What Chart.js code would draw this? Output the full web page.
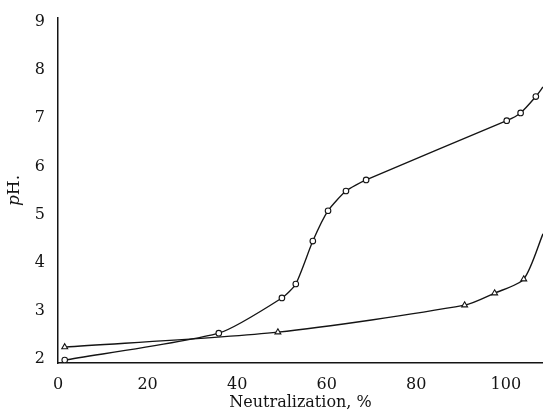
<!DOCTYPE html>
<html><head><meta charset="utf-8">
<script src="https://cdn.jsdelivr.net/npm/chart.js@4"></script>
<style>html,body{margin:0;padding:0;background:#fff;}</style>
</head><body>
<canvas id="c" width="543" height="417" style="width:543px;height:417px;display:block"></canvas>
<script>
// ---- data ----
const xTicks = [0, 20, 40, 60, 80, 100];
const yTicks = [2, 3, 4, 5, 6, 7, 8, 9];

// circles series (% neutralization, pH); last value is the curve's end at the right edge (no marker)
const circleX  = [1.5, 35.9, 50.0, 53.1, 56.9, 60.3, 64.3, 68.8, 100.2, 103.3, 106.7, 108.3];
const circlePH = [1.98, 2.54, 3.27, 3.56, 4.45, 5.08, 5.49, 5.72, 6.95, 7.11, 7.45, 7.65];
const circleMarked = [1, 1, 1, 1, 1, 1, 1, 1, 1, 1, 1, 0];

// triangles series; last value is the curve's end at the right edge (no marker)
const triangleX  = [1.5, 49.1, 90.8, 97.5, 104.0, 108.3];
const trianglePH = [2.25, 2.56, 3.12, 3.37, 3.66, 4.6];
const triangleMarked = [1, 1, 1, 1, 1, 0];

const xTitle = 'Neutralization, %';
const yTitleItalic = 'p';
const yTitleRest = 'H.';

const FONT = '"DejaVu Serif", "Liberation Serif", serif';
const INK = '#141414';

const toPts = (xs, ys) => xs.map((x, i) => ({x: x, y: ys[i]}));

const yTitlePlugin = {
  id: 'yTitle',
  afterDraw(chart) {
    const ctx = chart.ctx;
    const ca = chart.chartArea;
    ctx.save();
    ctx.fillStyle = INK;
    ctx.textBaseline = 'middle';
    const fIt = 'italic 17px ' + FONT;
    const fNo = '17px ' + FONT;
    ctx.font = fIt; const w1 = ctx.measureText(yTitleItalic).width;
    ctx.font = fNo; const w2 = ctx.measureText(yTitleRest).width;
    const total = w1 + w2;
    ctx.translate(15, (ca.top + ca.bottom) / 2);
    ctx.rotate(-Math.PI / 2);
    ctx.textAlign = 'left';
    ctx.font = fIt; ctx.fillText(yTitleItalic, -total / 2, 0);
    ctx.font = fNo; ctx.fillText(yTitleRest, -total / 2 + w1, 0);
    ctx.restore();
  }
};

new Chart(document.getElementById('c'), {
  type: 'line',
  data: {
    datasets: [
      {
        label: 'circles',
        data: toPts(circleX, circlePH),
        borderColor: INK,
        borderWidth: 1.35,
        pointStyle: 'circle',
        pointRadius: circleMarked.map(m => m ? 2.8 : 0),
        pointBorderWidth: 1.1,
        pointBorderColor: INK,
        pointBackgroundColor: '#ffffff',
        tension: 0.2,
        fill: false
      },
      {
        label: 'triangles',
        data: toPts(triangleX, trianglePH),
        borderColor: INK,
        borderWidth: 1.4,
        pointStyle: 'triangle',
        pointRadius: triangleMarked.map(m => m ? 3.4 : 0),
        pointBorderWidth: 1.1,
        pointBorderColor: INK,
        pointBackgroundColor: '#ffffff',
        tension: 0.25,
        fill: false
      }
    ]
  },
  options: {
    responsive: false,
    animation: false,
    devicePixelRatio: 1,
    layout: { autoPadding: false, padding: { top: 18, left: 0, right: 0, bottom: 0 } },
    plugins: { legend: { display: false }, tooltip: { enabled: false } },
    scales: {
      x: {
        type: 'linear',
        min: 0, max: 108.3,
        grid: { display: false, drawTicks: false },
        border: { display: true, color: INK, width: 1.5 },
        afterBuildTicks: s => { s.ticks = xTicks.map(v => ({value: v})); },
        afterFit: s => { s.height = 54; s.paddingRight = 0; s.paddingLeft = 0; },
        ticks: { color: INK, font: { family: FONT, size: 16 }, padding: 12, maxRotation: 0, autoSkip: false },
        title: { display: true, text: xTitle, color: INK, font: { family: FONT, size: 16 }, padding: { top: 0, bottom: 5 } }
      },
      y: {
        type: 'linear',
        min: 1.92, max: 9.08,
        grid: { display: false, drawTicks: false },
        border: { display: true, color: INK, width: 1.5 },
        afterBuildTicks: s => { s.ticks = yTicks.map(v => ({value: v})); },
        afterFit: s => { s.width = 58; s.paddingTop = 0; s.paddingBottom = 0; },
        ticks: { color: INK, font: { family: FONT, size: 16 }, padding: 13, autoSkip: false }
      }
    }
  },
  plugins: [yTitlePlugin]
});
</script>
</body></html>
